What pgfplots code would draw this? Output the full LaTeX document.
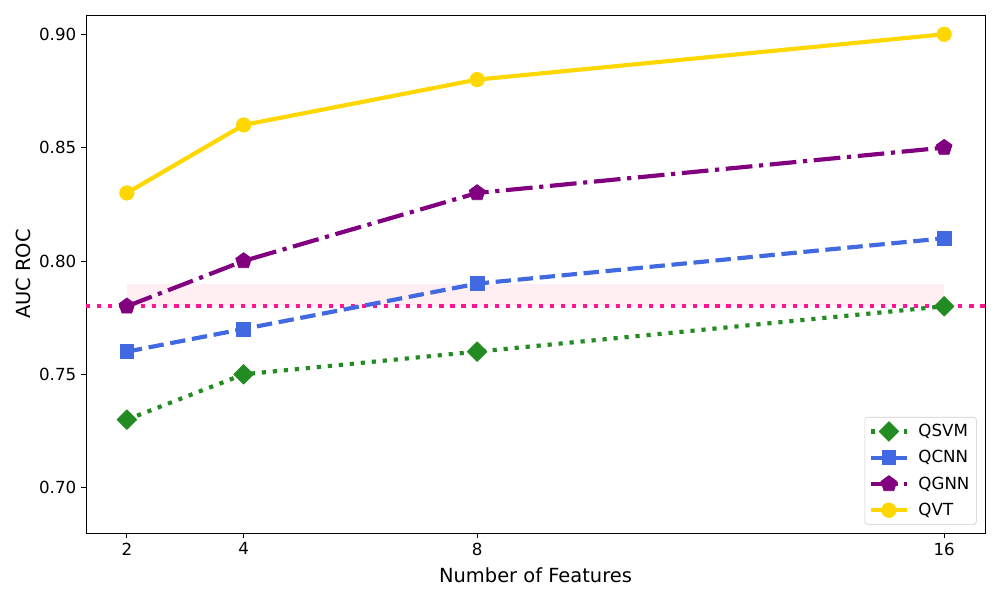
\documentclass[border=0pt]{standalone}
\usepackage{fontspec}
\setmainfont{DejaVu Sans}
\usepackage{pgfplots}
\pgfplotsset{compat=1.18}
\usetikzlibrary{plotmarks}
\definecolor{cQSVM}{HTML}{228B22}
\definecolor{cQCNN}{HTML}{4169E1}
\definecolor{cQGNN}{HTML}{800080}
\definecolor{cQVT}{HTML}{FFD700}
\definecolor{cPink}{HTML}{FF1493}
\definecolor{cBand}{HTML}{FFEEF2}

\begin{document}
\begin{tikzpicture}
\useasboundingbox (-61.92pt,-48.24pt) rectangle (658.08pt,383.76pt);
\begin{axis}[
  scale only axis, width=647.28pt, height=372.96pt,
  xmin=1.3, xmax=16.7, ymin=0.68, ymax=0.9085,
  xtick={2,4,8,16},
  ytick={0.70,0.75,0.80,0.85,0.90},
  yticklabel style={/pgf/number format/.cd, fixed, fixed zerofill, precision=2},
  /pgf/number format/assume math mode=true,
  tick align=outside, major tick length=3.5pt,
  xtick pos=bottom, ytick pos=left,
  tick style={black, line width=0.6pt},
  axis line style={line width=0.6pt},
  ticklabel style={font=\fontsize{12}{14}\selectfont},
  xlabel={Number of Features}, ylabel={AUC ROC},
  label style={font=\fontsize{14}{16}\selectfont},
  xlabel style={yshift=-2pt},
  ylabel style={yshift=-0.5pt},
  legend style={at={(axis description cs:1,0)}, anchor=south east,
    xshift=-6pt, yshift=6pt, font=\fontsize{12}{14}\selectfont,
    draw=black!20, rounded corners=2pt, row sep=4.5pt, inner sep=3pt},
  legend cell align=left,
  legend image code/.code={\draw[mark repeat=2,mark phase=2] plot coordinates {(0cm,0cm)(0.45cm,0cm)(0.9cm,0cm)};},
  every axis plot/.append style={line width=3pt, line join=round},
]
\addplot[draw=none, fill=cBand, forget plot] coordinates {(2,0.78)(16,0.78)(16,0.79)(2,0.79)} -- cycle;
\addplot[cPink, line width=3pt, dash pattern=on 3pt off 4.95pt, forget plot] coordinates {(1.3,0.78)(16.7,0.78)};

\addplot[cQSVM, dash pattern=on 3pt off 4.95pt, mark=square*, mark size=5pt,
  mark options={solid, rotate=45, fill=cQSVM, line width=0.5pt}]
  coordinates {(2,0.73)(4,0.75)(8,0.76)(16,0.78)};
\addlegendentry{\hspace{5pt}QSVM}
\addplot[cQCNN, dash pattern=on 11.1pt off 4.8pt, mark=square*, mark size=5pt,
  mark options={solid, fill=cQCNN, line width=0.5pt}]
  coordinates {(2,0.76)(4,0.77)(8,0.79)(16,0.81)};
\addlegendentry{\hspace{5pt}QCNN}
\addplot[cQGNN, dash pattern=on 19.2pt off 4.8pt on 3pt off 4.8pt, mark=pentagon*, mark size=6pt,
  mark options={solid, fill=cQGNN, line width=0.5pt}]
  coordinates {(2,0.78)(4,0.80)(8,0.83)(16,0.85)};
\addlegendentry{\hspace{5pt}QGNN}
\addplot[cQVT, solid, mark=*, mark size=5.2pt,
  mark options={solid, fill=cQVT, line width=0.5pt}]
  coordinates {(2,0.83)(4,0.86)(8,0.88)(16,0.90)};
\addlegendentry{\hspace{5pt}QVT}
\end{axis}
\end{tikzpicture}
\end{document}
